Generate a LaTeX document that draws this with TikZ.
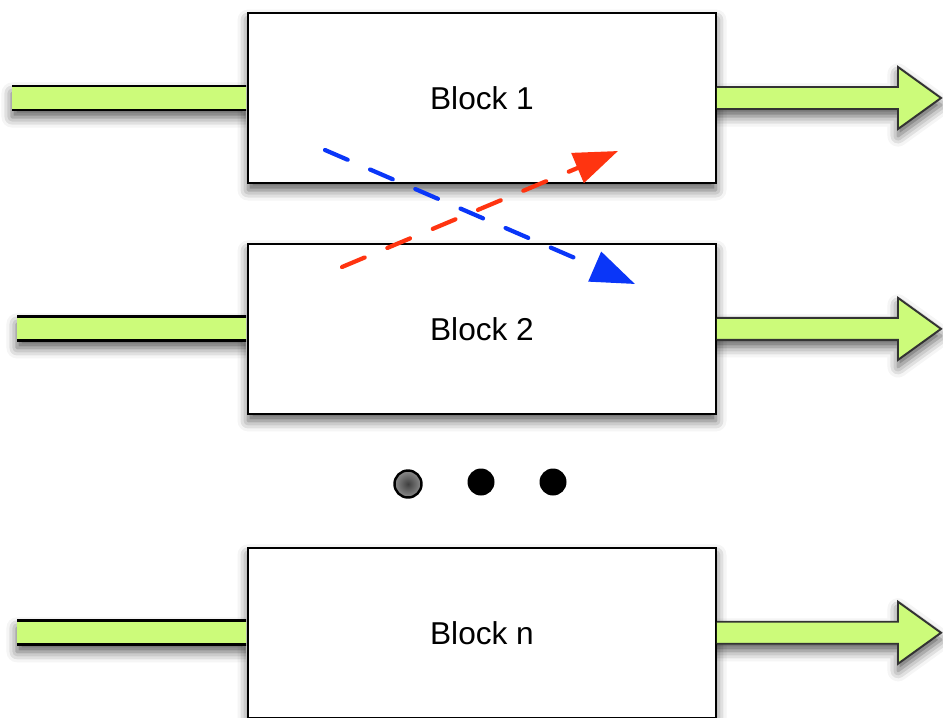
\documentclass[tikz,border=0pt]{standalone}
\usepackage{fontspec}
\setmainfont{Liberation Sans}
\usetikzlibrary{positioning}
\usetikzlibrary{calc}
\usetikzlibrary{arrows.meta}
\usetikzlibrary{shadows.blur}

\definecolor{bargreen}{HTML}{CCFB7A}
\definecolor{flowblue}{HTML}{0A36F8}
\definecolor{flowred}{HTML}{FF3410}

\begin{document}
\begin{tikzpicture}[
            x = 0.02cm,
            y = -0.02cm,
            softshadow/.style = {
                blur shadow = {shadow xshift=0pt, shadow yshift=-4pt,
                               shadow blur radius=6pt, shadow opacity=65}
            },
            block/.style = {
                draw,
                fill = white,
                line width = 1.1pt,
                minimum width = 9.36cm,
                minimum height = 3.4cm,
                font = \fontsize{18}{21}\selectfont,
                softshadow
            },
            inbar/.style = {fill = bargreen, softshadow},
            barline/.style = {line width = 1.7pt},
            outarrow/.style = {
                draw = black!80,
                line width = 1.1pt,
                fill = bargreen,
                softshadow
            },
            flow/.style = {
                line width = 2.4pt,
                line cap = round,
                dash pattern = on 14pt off 14pt,
                -{Triangle[length=25pt, width=18pt]}
            },
            dot/.style = {circle, fill, minimum size = 0.54cm, inner sep = 0pt},
            node distance = {1.18cm}
            ]
            \useasboundingbox (0,0) rectangle (943,717);

            \node[block] (b1) at (482,98) {Block 1};
            \node[block, below=of b1] (b2) {Block 2};
            \node[block, below=2.64cm of b2] (bn) {Block n};

            \coordinate (in1) at (12,0);
            \coordinate (in2) at (17,0);
            \coordinate (inn) at (17,0);
            \coordinate (out) at (941,0);

            % green bars in, fat arrows out
            \foreach \b in {1,2,n} {
                \begin{scope}
                    % keep the bar's shadow off the block
                    \clip ($(b\b.west)+(-300,-60)$) rectangle ($(b\b.west)+(-1,60)$);
                    \fill[inbar] ($(b\b.west -| in\b)+(0,-12)$) rectangle ($(b\b.west)+(0,12)$);
                    \draw[barline] ($(b\b.west -| in\b)+(0,-12)$) -- ($(b\b.west)+(0,-12)$)
                                   ($(b\b.west -| in\b)+(0,12)$) -- ($(b\b.west)+(0,12)$);
                \end{scope}
                \coordinate (out\b) at (b\b.east -| out);
                \draw[outarrow] ($(b\b.east)+(0,-11)$) -- ($(out\b)+(-43,-11)$)
                    -- ($(out\b)+(-43,-31)$) -- (out\b) -- ($(out\b)+(-43,31)$)
                    -- ($(out\b)+(-43,11)$) -- ($(b\b.east)+(0,11)$);
            }

            % crossing flows between block 1 and block 2
            \coordinate (blue0) at (325,150);
            \coordinate (blue1) at (635,284);
            \coordinate (red0) at (342,267);
            \coordinate (red1) at (618,151);
            \draw[flow, flowblue] (blue0) -- (blue1);
            \draw[flow, flowred] (red0) -- (red1);

            \node[dot, draw=black, line width=1.4pt, inner color=black!75, outer color=black!45] (d1) at (408,484) {};
            \node[dot] (d2) at (481,482) {};
            \node[dot] (d3) at (553,482) {};
        \end{tikzpicture}
\end{document}
